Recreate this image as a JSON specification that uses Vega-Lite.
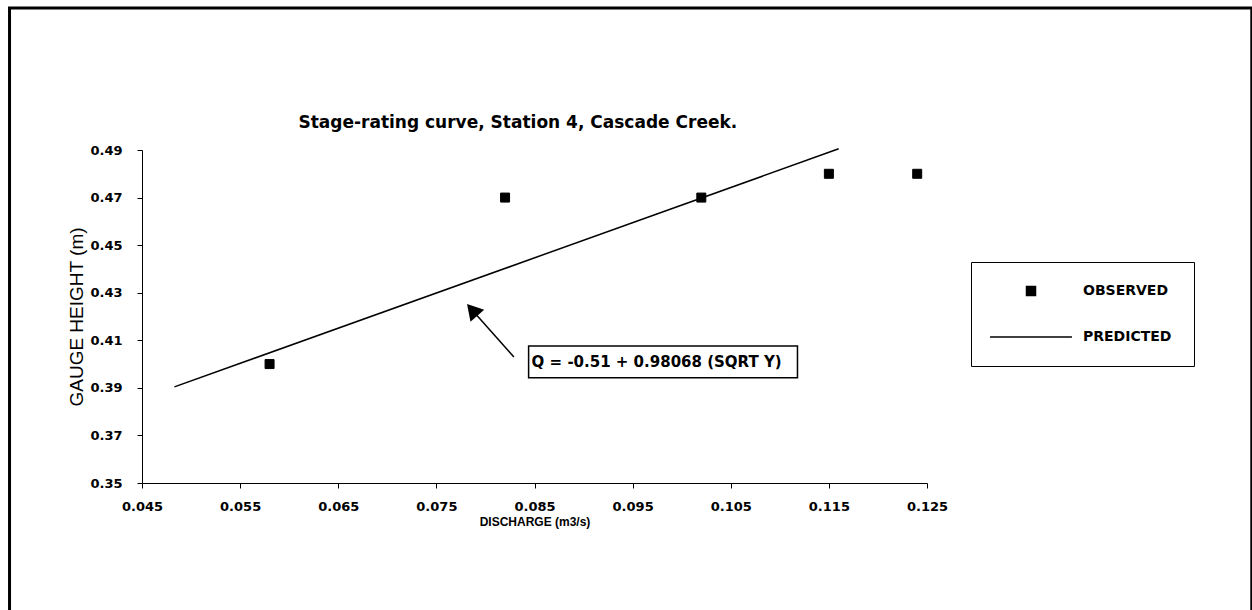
{
  "$schema": "https://vega.github.io/schema/vega-lite/v6.json",
  "width": 785,
  "height": 333,
  "autosize": "none",
  "padding": {"left": 142, "top": 150, "right": 325, "bottom": 127},
  "background": "white",
  "config": {
    "view": {"stroke": null},
    "font": "Liberation Sans",
    "axis": {
      "domainColor": "black",
      "tickColor": "black",
      "labelColor": "black",
      "titleColor": "black",
      "grid": false,
      "labelFont": "DejaVu Sans",
      "titleFont": "Liberation Sans",
      "labelFlush": false,
      "labelBound": false
    }
  },
  "datasets": {
    "observed": [
      {"discharge": 0.058, "height": 0.400, "series": "OBSERVED"},
      {"discharge": 0.082, "height": 0.470, "series": "OBSERVED"},
      {"discharge": 0.102, "height": 0.470, "series": "OBSERVED"},
      {"discharge": 0.115, "height": 0.480, "series": "OBSERVED"},
      {"discharge": 0.124, "height": 0.480, "series": "OBSERVED"}
    ],
    "predicted": [
      {"discharge": 0.0483, "height": 0.3904},
      {"discharge": 0.1160, "height": 0.4905}
    ]
  },
  "layer": [
    {
      "data": {"name": "observed"},
      "mark": {"type": "point", "filled": true, "fill": "black", "stroke": "black", "strokeWidth": 1, "opacity": 1, "size": 81, "clip": false},
      "encoding": {
        "x": {
          "field": "discharge",
          "type": "quantitative",
          "scale": {"domain": [0.045, 0.125], "nice": false, "zero": false},
          "axis": {
            "values": [0.045, 0.055, 0.065, 0.075, 0.085, 0.095, 0.105, 0.115, 0.125],
            "format": ".3f",
            "title": "DISCHARGE (m3/s)",
            "titleFontSize": 12,
            "titleFontWeight": "bold",
            "titlePadding": 3,
            "labelFontSize": 13,
            "labelFontWeight": "bold",
            "tickSize": 5,
            "labelPadding": 12
          }
        },
        "y": {
          "field": "height",
          "type": "quantitative",
          "scale": {"domain": [0.35, 0.49], "nice": false, "zero": false},
          "axis": {
            "values": [0.35, 0.37, 0.39, 0.41, 0.43, 0.45, 0.47, 0.49],
            "format": ".2f",
            "title": "GAUGE HEIGHT (m)",
            "titleFontSize": 19,
            "titleFontWeight": "normal",
            "titlePadding": 3,
            "labelFontSize": 13,
            "labelFontWeight": "bold",
            "tickSize": 5,
            "labelPadding": 15
          }
        },
        "shape": {
          "field": "series",
          "type": "nominal",
          "scale": {
            "domain": ["OBSERVED", "PREDICTED"],
            "range": ["M-1,-1H1V1H-1Z", "M-9.1,0H9.1"]
          },
          "legend": {
            "orient": "none",
            "legendX": 829,
            "legendY": 112,
            "title": null,
            "strokeColor": "black",
            "fillColor": "white",
            "padding": 22,
            "rowPadding": 31,
            "symbolSize": 81,
            "symbolOffset": 31,
            "symbolOpacity": 1,
            "labelFont": "DejaVu Sans",
            "labelFontSize": 14,
            "labelFontWeight": "bold",
            "labelColor": "black",
            "labelOffset": 45,
            "encode": {
              "legend": {"update": {"strokeWidth": {"value": 1.5}}},
              "symbols": {"update": {"fill": {"value": "black"}, "stroke": {"value": "black"}, "strokeWidth": {"value": 1.5}, "opacity": {"value": 1}}}
            }
          }
        }
      }
    },
    {
      "data": {"name": "predicted"},
      "mark": {"type": "line", "color": "black", "strokeWidth": 1.5, "clip": false},
      "encoding": {
        "x": {"field": "discharge", "type": "quantitative", "scale": {"domain": [0.045, 0.125], "nice": false, "zero": false}},
        "y": {"field": "height", "type": "quantitative", "scale": {"domain": [0.35, 0.49], "nice": false, "zero": false}}
      }
    },
    {
      "data": {"values": [{}]},
      "mark": {"type": "rect", "fill": null, "stroke": "black", "strokeWidth": 3, "clip": false},
      "encoding": {
        "x": {"datum": 0.0315, "type": "quantitative", "scale": {"domain": [0.045, 0.125], "nice": false, "zero": false}},
        "x2": {"datum": 0.1581},
        "y": {"datum": 0.5497, "type": "quantitative", "scale": {"domain": [0.35, 0.49], "nice": false, "zero": false}},
        "y2": {"datum": 0.28}
      }
    },
    {
      "data": {"values": [{"title": "Stage-rating curve, Station 4, Cascade Creek."}]},
      "mark": {"type": "text", "align": "center", "baseline": "middle", "font": "DejaVu Sans", "fontSize": 17, "fontWeight": "bold", "color": "black", "clip": false},
      "encoding": {
        "x": {"datum": 0.0833, "type": "quantitative", "scale": {"domain": [0.045, 0.125], "nice": false, "zero": false}},
        "y": {"datum": 0.5013, "type": "quantitative", "scale": {"domain": [0.35, 0.49], "nice": false, "zero": false}},
        "text": {"field": "title"}
      }
    },
    {
      "data": {"values": [{}]},
      "mark": {"type": "rule", "color": "black", "strokeWidth": 1.5, "clip": false},
      "encoding": {
        "x": {"datum": 0.0829, "type": "quantitative", "scale": {"domain": [0.045, 0.125], "nice": false, "zero": false}},
        "y": {"datum": 0.4030, "type": "quantitative", "scale": {"domain": [0.35, 0.49], "nice": false, "zero": false}},
        "x2": {"datum": 0.0788},
        "y2": {"datum": 0.4220}
      }
    },
    {
      "data": {"values": [{}]},
      "mark": {"type": "point", "shape": "triangle-up", "filled": true, "color": "black", "opacity": 1, "size": 330, "angle": 319, "clip": false},
      "encoding": {
        "x": {"datum": 0.07865, "type": "quantitative", "scale": {"domain": [0.045, 0.125], "nice": false, "zero": false}},
        "y": {"datum": 0.4228, "type": "quantitative", "scale": {"domain": [0.35, 0.49], "nice": false, "zero": false}}
      }
    },
    {
      "data": {"values": [{}]},
      "mark": {"type": "rect", "fill": "white", "stroke": "black", "strokeWidth": 1.5, "clip": false},
      "encoding": {
        "x": {"datum": 0.0844, "type": "quantitative", "scale": {"domain": [0.045, 0.125], "nice": false, "zero": false}},
        "x2": {"datum": 0.1118},
        "y": {"datum": 0.4076, "type": "quantitative", "scale": {"domain": [0.35, 0.49], "nice": false, "zero": false}},
        "y2": {"datum": 0.3942}
      }
    },
    {
      "data": {"values": [{"note": "Q = -0.51 + 0.98068 (SQRT Y)"}]},
      "mark": {"type": "text", "align": "left", "baseline": "middle", "font": "DejaVu Sans", "fontSize": 15, "fontWeight": "bold", "color": "black", "dx": 3, "clip": false},
      "encoding": {
        "x": {"datum": 0.0844, "type": "quantitative", "scale": {"domain": [0.045, 0.125], "nice": false, "zero": false}},
        "y": {"datum": 0.4009, "type": "quantitative", "scale": {"domain": [0.35, 0.49], "nice": false, "zero": false}},
        "text": {"field": "note"}
      }
    }
  ]
}
